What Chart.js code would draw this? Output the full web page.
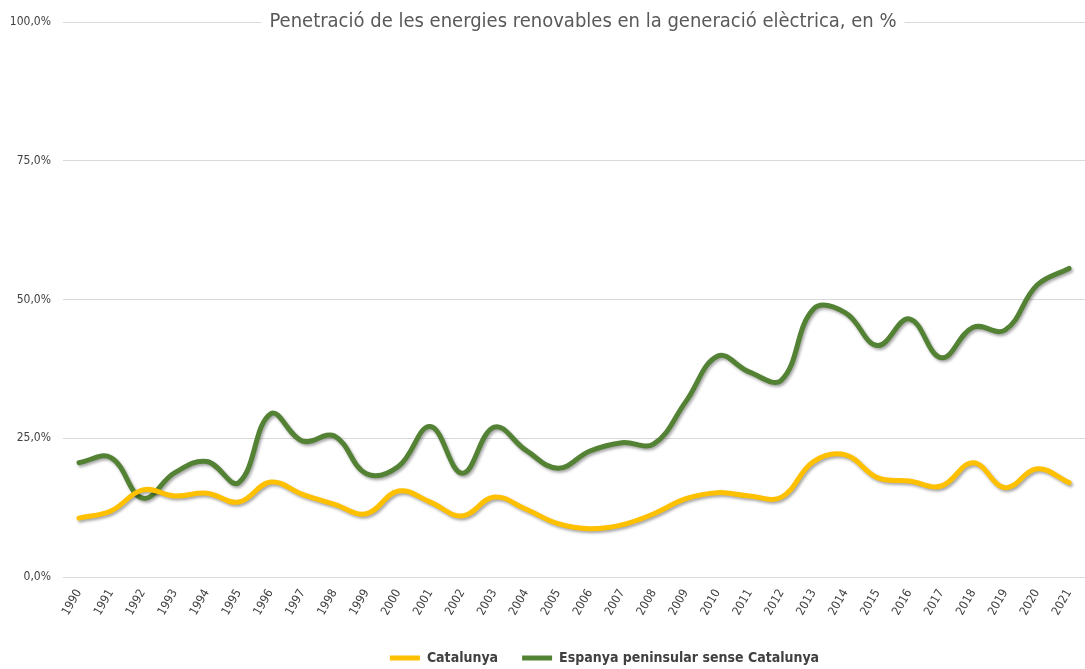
<!DOCTYPE html>
<html>
<head>
<meta charset="utf-8">
<script src="https://cdn.jsdelivr.net/npm/chart.js@4"></script>
<style>
  html, body { margin: 0; padding: 0; background: #fff; }
  #wrap { width: 1085px; height: 669px; }
</style>
</head>
<body>
<div id="wrap"><canvas id="chart"></canvas></div>
<script>
const years = ["1990","1991","1992","1993","1994","1995","1996","1997","1998","1999","2000",
  "2001","2002","2003","2004","2005","2006","2007","2008","2009","2010",
  "2011","2012","2013","2014","2015","2016","2017","2018","2019","2020","2021"];
const catalunya = [10.6, 11.9, 15.7, 14.6, 15.1, 13.5, 17.1, 14.9, 13.1, 11.4, 15.5,
  13.5, 11.0, 14.4, 12.2, 9.6, 8.7, 9.4, 11.4, 14.1, 15.2,
  14.6, 14.4, 20.8, 22.0, 17.9, 17.3, 16.4, 20.6, 16.1, 19.5, 17.0];
const espanya = [20.6, 21.5, 14.2, 18.8, 20.8, 17.0, 29.4, 24.5, 25.4, 18.6, 19.9,
  27.1, 18.7, 27.0, 22.8, 19.6, 22.7, 24.2, 24.0, 31.6, 39.8,
  36.9, 35.5, 48.3, 47.6, 41.7, 46.5, 39.5, 45.0, 44.5, 52.6, 55.6];
const yTicks = [0, 25, 50, 75, 100];
const titleText = "Penetració de les energies renovables en la generació elèctrica, en %";

const FONT = "'Liberation Sans Narrow', 'DejaVu Sans Condensed', 'Roboto', sans-serif";

// soft shadow under the lines, like the spreadsheet style
const lineShadow = {
  id: "lineShadow",
  beforeDatasetDraw(chart) {
    const ctx = chart.ctx;
    ctx.save();
    ctx.shadowColor = "rgba(0,0,0,0.35)";
    ctx.shadowBlur = 3;
    ctx.shadowOffsetX = 1.5;
    ctx.shadowOffsetY = 2;
  },
  afterDatasetDraw(chart) {
    chart.ctx.restore();
  }
};

// title sits on top of the 100% gridline
const topTitle = {
  id: "topTitle",
  afterDraw(chart) {
    const ctx = chart.ctx;
    const y = chart.scales.y.getPixelForValue(100);
    ctx.save();
    ctx.font = "20px " + FONT;
    const w = ctx.measureText(titleText).width;
    const cx = 583;
    ctx.fillStyle = "#fff";
    ctx.fillRect(cx - w / 2 - 8, y - 14, w + 16, 28);
    ctx.fillStyle = "#595959";
    ctx.textAlign = "center";
    ctx.textBaseline = "middle";
    ctx.fillText(titleText, cx, y);
    ctx.restore();
  }
};

// the legend in the original sits a bit right of centre and lower
const legendShift = {
  id: "legendShift",
  afterLayout(chart) {
    const lg = chart.legend;
    const dy = 6;
    lg.left += 62;
    lg.right += 62;
    lg.top += dy;
    lg.bottom += dy;
  }
};

new Chart(document.getElementById("chart"), {
  type: "line",
  data: {
    labels: years,
    datasets: [
      {
        label: "Catalunya",
        data: catalunya,
        borderColor: "#FFC000",
        backgroundColor: "#FFC000",
        borderWidth: 5,
        pointRadius: 0,
        tension: 0.4,
        borderCapStyle: "round"
      },
      {
        label: "Espanya peninsular sense Catalunya",
        data: espanya,
        borderColor: "#548235",
        backgroundColor: "#548235",
        borderWidth: 5,
        pointRadius: 0,
        tension: 0.4,
        borderCapStyle: "round"
      }
    ]
  },
  options: {
    responsive: true,
    maintainAspectRatio: false,
    animation: false,
    layout: { padding: { top: 22, right: 0, bottom: 0, left: 0 } },
    plugins: {
      title: { display: false },
      tooltip: { enabled: false },
      legend: {
        position: "bottom",
        labels: {
          usePointStyle: true,
          pointStyle: "line",
          pointStyleWidth: 30,
          color: "#404040",
          font: { family: FONT, size: 14, weight: "bold" },
          padding: 24
        }
      }
    },
    scales: {
      x: {
        offset: true,
        grid: { display: false },
        border: { display: false },
        ticks: {
          color: "#404040",
          font: { family: FONT, size: 12 },
          maxRotation: 60,
          minRotation: 60,
          autoSkip: false,
          padding: 2
        },
        afterFit(scale) { scale.height = 44; }
      },
      y: {
        min: 0,
        max: 100,
        afterBuildTicks(scale) {
          scale.ticks = yTicks.map(v => ({ value: v }));
        },
        grid: { color: "#d9d9d9", lineWidth: 1, drawTicks: false },
        border: { display: false },
        ticks: {
          color: "#404040",
          font: { family: FONT, size: 12 },
          padding: 12,
          callback: v => v.toFixed(1).replace(".", ",") + "%"
        },
        afterFit(scale) { scale.width = 63; }
      }
    }
  },
  plugins: [lineShadow, topTitle, legendShift]
});
</script>
</body>
</html>
